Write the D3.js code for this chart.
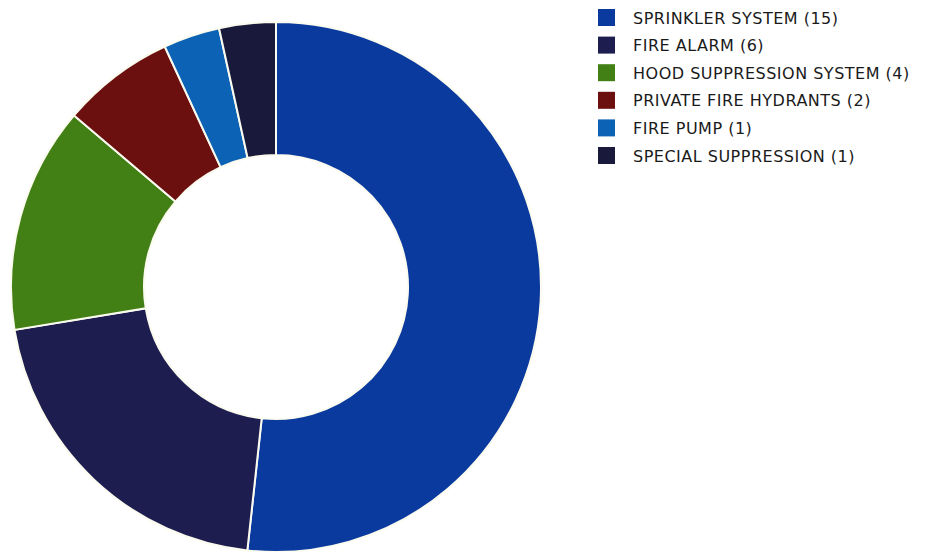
<!DOCTYPE html>
<html>
<head>
<meta charset="utf-8">
<script src="https://cdn.jsdelivr.net/npm/d3@7"></script>
<style>
  html, body { margin: 0; padding: 0; background: #ffffff; }
  svg { display: block; }
</style>
</head>
<body>
<svg id="chart" width="929" height="552"></svg>
<script>
const categories = ["SPRINKLER SYSTEM", "FIRE ALARM", "HOOD SUPPRESSION SYSTEM", "PRIVATE FIRE HYDRANTS", "FIRE PUMP", "SPECIAL SUPPRESSION"];
const values = [15, 6, 4, 2, 1, 1];
const colors = ["#0a3a9e", "#1d1d50", "#427f14", "#6b0f0f", "#0c62b4", "#19193b"];

const svg = d3.select("#chart");
const cx = 276, cy = 287, outerR = 265, innerR = 132;

const pie = d3.pie().sort(null).value(d => d.value);
const arc = d3.arc().innerRadius(innerR).outerRadius(outerR);
const data = categories.map((c, i) => ({ name: c, value: values[i], color: colors[i] }));

svg.append("g")
  .attr("transform", `translate(${cx},${cy})`)
  .selectAll("path")
  .data(pie(data))
  .join("path")
  .attr("d", arc)
  .attr("fill", d => d.data.color)
  .attr("stroke", "#fbfbf0")
  .attr("stroke-width", 2);

const legend = svg.append("g").attr("transform", "translate(598,9)");
const rowH = 27.6;
const rows = legend.selectAll("g").data(data).join("g")
  .attr("transform", (d, i) => `translate(0,${i * rowH})`);
rows.append("rect")
  .attr("width", 17).attr("height", 17)
  .attr("fill", d => d.color);
rows.append("text")
  .attr("x", 35).attr("y", 14.5)
  .attr("font-family", "DejaVu Sans, sans-serif")
  .attr("font-size", 16)
  .attr("letter-spacing", 0.5)
  .attr("fill", "#1a1a1a")
  .text(d => `${d.name} (${d.value})`);
</script>
</body>
</html>
